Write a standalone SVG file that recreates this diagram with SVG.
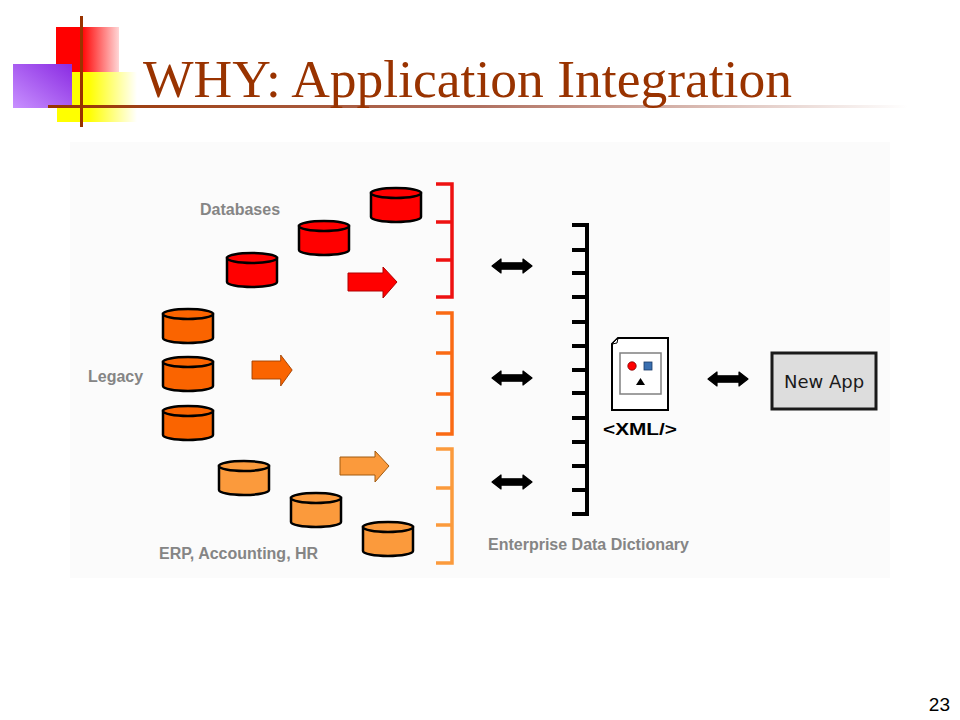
<svg xmlns="http://www.w3.org/2000/svg" width="960" height="720" viewBox="0 0 960 720">
<defs>
<linearGradient id="gRed" x1="0" y1="0" x2="1" y2="0">
<stop offset="0" stop-color="#ff0000"/><stop offset="0.4" stop-color="#ff0000"/><stop offset="1" stop-color="#ffd6d6"/>
</linearGradient>
<linearGradient id="gYel" x1="0" y1="0" x2="1" y2="0">
<stop offset="0" stop-color="#ffff00"/><stop offset="0.4" stop-color="#ffff00"/><stop offset="1" stop-color="#ffffff"/>
</linearGradient>
<linearGradient id="gPur" x1="1" y1="0" x2="0" y2="1">
<stop offset="0" stop-color="#8a2be2"/><stop offset="1" stop-color="#c890ff"/>
</linearGradient>
<linearGradient id="gLine" x1="0" y1="0" x2="1" y2="0">
<stop offset="0" stop-color="#993300"/><stop offset="0.5" stop-color="#b07060"/><stop offset="1" stop-color="#ffffff"/>
</linearGradient>
<g id="cyl">
<path d="M-25,0 L-25,24 A25,5 0 0 0 25,24 L25,0 Z"/>
<ellipse cx="0" cy="0" rx="25" ry="5"/>
</g>
<polygon id="blk" points="0,6 35,6 35,0 49,15 35,31 35,24 0,24"/>
<polygon id="dbl" points="0,0 9,-7 9,-3.2 31,-3.2 31,-7 40,0 31,7 31,3.2 9,3.2 9,7"/>
</defs>
<style>
.cr{fill:#ff0000;stroke:#000;stroke-width:2.5}
.co{fill:#fa6400;stroke:#000;stroke-width:2.5}
.cl{fill:#fb9a3c;stroke:#000;stroke-width:2.5}
.lbl{font-family:"Liberation Sans",Arial,sans-serif;font-weight:bold;font-size:16px;fill:#858585}
.brk{fill:none;stroke-width:3.5}
.bus{fill:none;stroke:#000;stroke-width:4}
.da{fill:#000;stroke:#000;stroke-width:1.2;stroke-linejoin:round}
</style>
<rect width="960" height="720" fill="#ffffff"/>
<g id="title-decor">
<rect x="56" y="27" width="63" height="45" fill="url(#gRed)"/>
<rect x="57" y="72" width="80" height="50" fill="url(#gYel)"/>
<rect x="13" y="64" width="59" height="44" fill="url(#gPur)"/>
<rect x="48" y="105" width="860" height="3" fill="url(#gLine)"/>
<rect x="80" y="16" width="3" height="111" fill="#993300"/>
</g>
<text x="143" y="97" font-family="'Liberation Serif','Times New Roman',serif" font-size="53" fill="#993300" textLength="649" lengthAdjust="spacingAndGlyphs">WHY: Application Integration</text>
<rect id="panel" x="70" y="142" width="820" height="436" fill="#fbfbfb"/>

<g id="databases">
<g class="cr" transform="translate(396,193)"><use href="#cyl"/></g>
<g class="cr" transform="translate(324,226)"><use href="#cyl"/></g>
<g class="cr" transform="translate(252,258)"><use href="#cyl"/></g>
<use href="#blk" transform="translate(348,267)" fill="#ff0000" stroke="#b00000" stroke-width="1"/>
<text class="lbl" x="200" y="215">Databases</text>
<path class="brk" stroke="#ee1111" d="M436,184 H452 V297 H436 M436,222 H452 M436,260 H452"/>
</g>

<g id="legacy">
<g class="co" transform="translate(188,314)"><use href="#cyl"/></g>
<g class="co" transform="translate(188,362)"><use href="#cyl"/></g>
<g class="co" transform="translate(188,411)"><use href="#cyl"/></g>
<use href="#blk" transform="translate(252,355) scale(0.82,1)" fill="#fa6400" stroke="#a04000" stroke-width="1"/>
<text class="lbl" x="88" y="382">Legacy</text>
<path class="brk" stroke="#fa6a14" d="M436,313 H452 V434 H436 M436,353 H452 M436,394 H452"/>
</g>

<g id="erp">
<g class="cl" transform="translate(244,466)"><use href="#cyl"/></g>
<g class="cl" transform="translate(316,498)"><use href="#cyl"/></g>
<g class="cl" transform="translate(388,527)"><use href="#cyl"/></g>
<use href="#blk" transform="translate(340,451)" fill="#fb9a3c" stroke="#a05a10" stroke-width="1"/>
<text class="lbl" x="159" y="559">ERP, Accounting, HR</text>
<path class="brk" stroke="#fb9a3c" d="M436,449 H452 V563 H436 M436,488 H452 M436,525 H452"/>
</g>

<g id="connectors">
<use href="#dbl" class="da" transform="translate(492,266)"/>
<use href="#dbl" class="da" transform="translate(492,378)"/>
<use href="#dbl" class="da" transform="translate(492,482)"/>
<use href="#dbl" class="da" transform="translate(708,379)"/>
</g>

<g id="data-dictionary">
<path class="bus" d="M572,225 H587 V514 H572 M572,250 H587 M572,273 H587 M572,297 H587 M572,322 H587 M572,346 H587 M572,370 H587 M572,393 H587 M572,418 H587 M572,442 H587 M572,466 H587 M572,490 H587"/>
<text class="lbl" x="488" y="550">Enterprise Data Dictionary</text>
</g>

<g id="xml">
<path d="M618,338 H668 V410 H612 V344 Z" fill="#ffffff" stroke="#000" stroke-width="2"/>
<path d="M612,344 L618,338 L617,343 Z" fill="#fff" stroke="#000" stroke-width="1"/>
<rect x="620" y="353" width="41" height="41" fill="#ffffff" stroke="#808080" stroke-width="1.5"/>
<circle cx="632" cy="366" r="4.2" fill="#ff0000" stroke="#800000" stroke-width="0.8"/>
<rect x="644" y="362" width="8" height="8" fill="#3a6fb0" stroke="#1a3a66" stroke-width="0.8"/>
<polygon points="640.5,378 645,385 636,385" fill="#000"/>
<text x="603" y="435" font-family="'Liberation Sans',Arial,sans-serif" font-weight="bold" font-size="17" fill="#000" textLength="74" lengthAdjust="spacingAndGlyphs">&lt;XML/&gt;</text>
</g>

<g id="new-app">
<rect x="772" y="353" width="104" height="56" fill="#dddddd" stroke="#1a1a1a" stroke-width="3"/>
<text x="824" y="388" text-anchor="middle" font-family="'DejaVu Sans',Verdana,sans-serif" font-size="18" fill="#1a1a1a">New App</text>
</g>

<text x="950" y="711" text-anchor="end" font-family="'Liberation Sans',Arial,sans-serif" font-size="19" fill="#000">23</text>
</svg>
